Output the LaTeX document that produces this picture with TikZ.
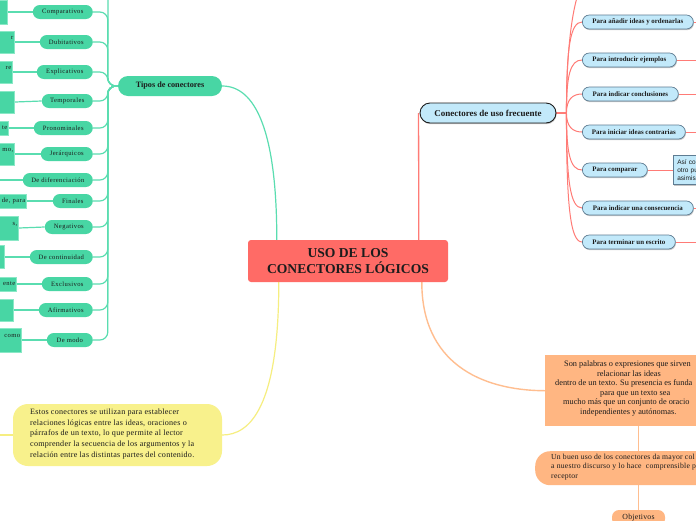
\documentclass[tikz,border=0pt]{standalone}
\usepackage{fontspec}
\setmainfont{Liberation Serif}
\newfontfamily\gfam[LetterSpace=6]{Liberation Serif}
\newfontfamily\yfam[LetterSpace=3]{Liberation Serif}
\newfontfamily\sansfam{Liberation Sans}
\usetikzlibrary{shadows,backgrounds,calc}
\definecolor{tgreen}{HTML}{48D6A4}
\definecolor{tgreenline}{HTML}{5ADDB0}
\definecolor{tgreenedge}{HTML}{8AE8C6}
\definecolor{tred}{HTML}{FF6B66}
\definecolor{tredline}{HTML}{FF7B76}
\definecolor{tblue}{HTML}{C2E9FA}
\definecolor{tblueborder}{HTML}{5E7C92}
\definecolor{torange}{HTML}{FFB682}
\definecolor{torangeline}{HTML}{FFBE90}
\definecolor{tyellow}{HTML}{F8F18C}
\definecolor{tyellowline}{HTML}{F6EE80}
\definecolor{ttext}{HTML}{1C1C1C}
\begin{document}
\begin{tikzpicture}[x=1pt,y=-1pt,
  gpill/.style={fill=tgreen, rounded corners=7pt, minimum height=14pt, inner sep=0pt, anchor=east,
    font=\gfam\fontsize{6.6}{8}\selectfont, text=ttext},
  gbox/.style={fill=tgreen, draw=tgreenedge, line width=0.6pt, inner sep=1.5pt, anchor=east,
    text width=50pt, align=right, minimum width=53pt, font=\gfam\fontsize{6.6}{8}\selectfont, text=ttext},
  gline/.style={draw=tgreenline, line width=1.2pt},
  rline/.style={draw=tredline, line width=1pt},
  oline/.style={draw=torangeline, line width=1.4pt},
  yline/.style={draw=tyellowline, line width=1.2pt},
  bpill/.style={fill=tblue, draw=tblueborder, line width=0.7pt, rounded corners=7pt, minimum height=14pt,
    inner sep=0pt, anchor=west, font=\bfseries\fontsize{6.9}{8}\selectfont, text=ttext,
    drop shadow={shadow xshift=0.6pt, shadow yshift=-1.2pt, opacity=0.45, fill=gray}},
]
\useasboundingbox (0,0) rectangle (696,520);

% central node
\node[fill=tred, rounded corners=3pt, minimum width=200pt, minimum height=42pt, inner sep=0pt,
  align=center, font=\bfseries\fontsize{13.6}{16}\selectfont, text=ttext] (c) at (348,261)
  {USO DE LOS\\CONECTORES LÓGICOS};

% green branch
\node[fill=tgreen, rounded corners=10pt, minimum width=104pt, minimum height=20pt, inner sep=0pt,
  font=\bfseries\fontsize{8.2}{10}\selectfont, text=ttext] (tipos) at (170,86) {Tipos de conectores};

\node[gpill, minimum width=60pt] (p1) at (93,12) {Comparativos};
\node[gpill, minimum width=53pt] (p2) at (93,42) {Dubitativos};
\node[gpill, minimum width=56pt] (p3) at (93,72) {Explicativos};
\node[gpill, minimum width=51pt] (p4) at (93,101) {Temporales};
\node[gpill, minimum width=59pt] (p5) at (93,128) {Pronominales};
\node[gpill, minimum width=52pt] (p6) at (93,154) {Jerárquicos};
\node[gpill, minimum width=70pt] (p7) at (93,180) {De diferenciación};
\node[gpill, minimum width=40pt] (p8) at (93,201) {Finales};
\node[gpill, minimum width=48pt] (p9) at (93,227) {Negativos};
\node[gpill, minimum width=63pt] (p10) at (93,257) {De continuidad};
\node[gpill, minimum width=51pt] (p11) at (93,284) {Exclusivos};
\node[gpill, minimum width=54pt] (p12) at (93,310) {Afirmativos};
\node[gpill, minimum width=46pt] (p13) at (93,340) {De modo};

\node[gbox, minimum height=24pt] (b1) at (8,12) {};
\node[gbox, minimum height=22pt] (b2) at (15,42) {r\\\mbox{}};
\node[gbox, minimum height=22pt] (b3) at (13,72) {re\\\mbox{}};
\node[gbox, minimum height=22pt] (b4) at (15,102) {};
\node[gbox, minimum height=14pt] (b5) at (9,128) {te};
\node[gbox, minimum height=22pt] (b6) at (15,154) {mo,\\\mbox{}};
\coordinate (b7) at (0,180);
\node[gbox, minimum height=14pt] (b8) at (27,201) {de, para};
\node[gbox, minimum height=24pt] (b9) at (19,228) {s,\\\mbox{}};
\node[gbox, minimum height=23pt] (b10) at (5,257) {};
\node[gbox, minimum height=14pt] (b11) at (17,284) {ente};
\node[gbox, minimum height=22pt] (b12) at (14,310) {};
\node[gbox, minimum height=24pt] (b13) at (22,340) {como\\\mbox{}};
\coordinate (gtop) at (108,0);

% red branch
\node[fill=tblue, draw=ttext, line width=0.9pt, rounded corners=10pt, minimum width=136pt, minimum height=20pt,
  inner sep=0pt, font=\bfseries\fontsize{9}{11}\selectfont, text=ttext,
  drop shadow={shadow xshift=0.6pt, shadow yshift=-1.2pt, opacity=0.45, fill=gray}] (conect) at (488,113)
  {Conectores de uso frecuente};

\node[bpill, minimum width=111pt] (q1) at (582,22) {Para añadir ideas y ordenarlas};
\node[bpill, minimum width=94pt] (q2) at (582,60) {Para introducir ejemplos};
\node[bpill, minimum width=96pt] (q3) at (582,94) {Para indicar conclusiones};
\node[bpill, minimum width=103pt] (q4) at (582,132) {Para iniciar ideas contrarias};
\node[bpill, minimum width=65pt] (q5) at (582,170) {Para comparar};
\node[bpill, minimum width=111pt] (q6) at (582,208) {Para indicar una consecuencia};
\node[bpill, minimum width=93pt] (q7) at (582,242) {Para terminar un escrito};

\node[fill=tblue, draw=tblueborder, line width=0.7pt, anchor=west, minimum width=40pt, minimum height=28pt,
  inner sep=4pt, text width=32pt, align=left, font=\sansfam\fontsize{6.5}{8}\selectfont, text=ttext,
  drop shadow={shadow xshift=0.6pt, shadow yshift=-1.2pt, opacity=0.45, fill=gray}] (asi) at (673,170)
  {Así co\\otro pu\\asimis};

\coordinate (r1) at (700,22);
\coordinate (r2) at (700,60);
\coordinate (r3) at (700,94);
\coordinate (r4) at (700,132);
\coordinate (r6) at (700,208);
\coordinate (r7) at (700,242);
\coordinate (rtop) at (592,-25);

% orange branch
\node[fill=torange, anchor=north west, minimum width=170pt, minimum height=71pt, inner sep=0pt] (o1) at (545,355) {};
\node[anchor=north west, inner sep=0pt, align=left, font=\fontsize{8.3}{9.5}\selectfont, text=ttext] (o1t) at (555,361)
  {\hspace*{9pt}Son palabras o expresiones que sirven\\
   \hspace*{42pt}relacionar las ideas\\
   dentro de un texto. Su presencia es funda\\
   \hspace*{45pt}para que un texto sea\\
   \hspace*{8pt}mucho más que un conjunto de oracio\\
   \hspace*{25pt}independientes y autónomas.};
\node[fill=torange, anchor=north west, rounded corners=15pt, minimum width=180pt, minimum height=34pt, inner sep=0pt] (o2) at (535,451) {};
\node[anchor=north west, inner sep=0pt, align=left, font=\yfam\fontsize{7.7}{9.3}\selectfont, text=ttext] (o2t) at (551,454)
  {Un buen uso de los conectores da mayor col\\
   a nuestro discurso y lo hace\ \ comprensible p\\
   receptor};
\node[fill=torange, rounded corners=7pt, minimum width=53pt, minimum height=16pt, inner sep=0pt,
  font=\yfam\fontsize{7.8}{9}\selectfont, text=ttext] (obj) at (638.5,518) {Objetivos};

% yellow branch
\node[fill=tyellow, rounded corners=15pt, minimum width=209pt, minimum height=62pt, inner sep=0pt] (ybox) at (117.5,435) {};
\node[anchor=north west, inner sep=0pt, align=left, font=\yfam\fontsize{8.1}{10.7}\selectfont, text=ttext] (yt) at (30,408.5)
  {Estos conectores se utilizan para establecer\\
   relaciones lógicas entre las ideas, oraciones o\\
   párrafos de un texto, lo que permite al lector\\
   comprender la secuencia de los argumentos y la\\
   relación entre las distintas partes del contenido.};
\coordinate (yl) at (0,435);

\begin{scope}[on background layer]
  \fill[white] (0,0) rectangle (696,520);
  % green
  \draw[gline] (tipos.east) .. controls (255,86) and ($(c.north west)+(29,-110)$) .. ($(c.north west)+(29,0)$);
  \draw[gline, rounded corners=8pt] (tipos.west) -- ++(-10,0) -- (gtop);
  \foreach \i in {1,...,13} {
    \draw[gline, rounded corners=8pt] (tipos.west) -- ++(-10,0) |- (p\i.east);
  }
  \foreach \i in {1,...,13} {
    \draw[gline] (b\i.east) -- (p\i.west);
  }
  % red
  \draw[rline, line width=1.3pt] ($(c.north west)+(171,0)$) -- ($(conect.west)+(-1,0)$);
  \draw[rline] (conect.east) -- ++(10,0) .. controls +(0,-90) and +(-14,0) .. (rtop);
  \draw[rline] (conect.east) -- ++(10,0) .. controls +(0,-64) and +(-12,0) .. (q1.west);
  \draw[rline] (conect.east) -- ++(10,0) .. controls +(0,-37) and +(-12,0) .. (q2.west);
  \draw[rline] (conect.east) -- ++(10,0) .. controls +(0,-13) and +(-10,0) .. (q3.west);
  \draw[rline] (conect.east) -- ++(10,0) .. controls +(0,13) and +(-10,0) .. (q4.west);
  \draw[rline] (conect.east) -- ++(10,0) .. controls +(0,40) and +(-12,0) .. (q5.west);
  \draw[rline] (conect.east) -- ++(10,0) .. controls +(0,66) and +(-12,0) .. (q6.west);
  \draw[rline] (conect.east) -- ++(10,0) .. controls +(0,90) and +(-12,0) .. (q7.west);
  \draw[rline] (q1.east) -- (r1);
  \draw[rline] (q2.east) -- (r2);
  \draw[rline] (q3.east) -- (r3);
  \draw[rline] (q4.east) -- (r4);
  \draw[rline] (q5.east) -- (asi.west);
  \draw[rline] (q6.east) -- (r6);
  \draw[rline] (q7.east) -- (r7);
  % orange
  \draw[oline] ($(c.south west)+(174,0)$) .. controls ($(c.south west)+(174,80)$) and (480,390.5) .. (o1.west);
  \draw[oline] (o1.south -| obj.north) -- (o2.north -| obj.north);
  \draw[oline] (o2.south -| obj.north) -- (obj.north);
  % yellow
  \draw[yline] ($(c.south west)+(31,0)$) .. controls ($(c.south west)+(31,125)$) and (250,435) .. (ybox.east);
  \draw[yline] (yl) -- (ybox.west);
\end{scope}
\end{tikzpicture}
\end{document}
